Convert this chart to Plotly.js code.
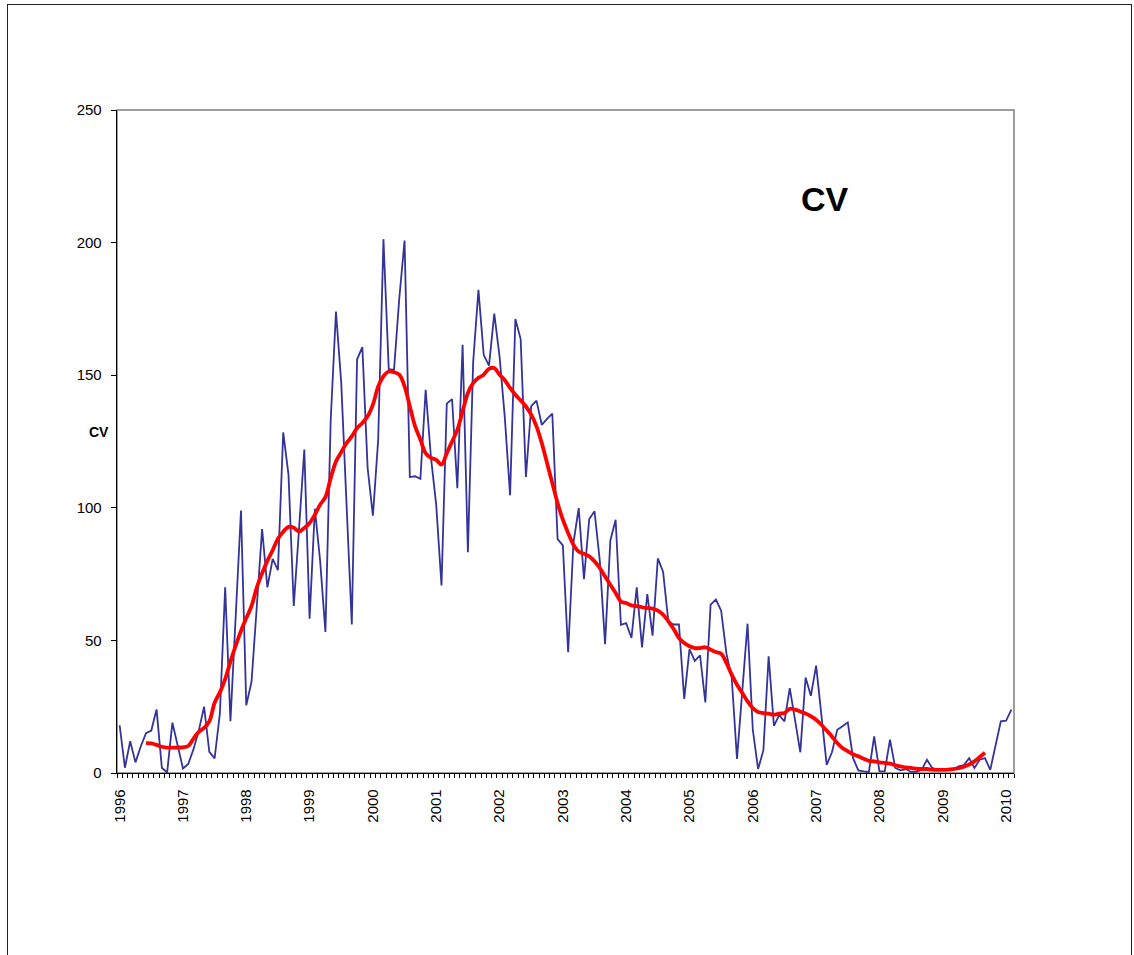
<!DOCTYPE html>
<html>
<head>
<meta charset="utf-8">
<script src="https://cdn.plot.ly/plotly-3.0.1.min.js"></script>
<style>
  html, body { margin: 0; padding: 0; background: #fff; overflow: hidden; }
  #frame { position: absolute; left: 7px; top: 4px; width: 1125px; height: 980px; border: 1px solid #222; box-sizing: border-box; pointer-events: none; }
  #chart { position: absolute; left: 0; top: 0; width: 1134px; height: 955px; }
</style>
</head>
<body>
<div id="chart"></div>
<div id="frame"></div>
<script>
// Monthly CV values, Jan 1996 .. Feb 2010
const cvMonthly = [
  18, 2, 12, 4, 10, 15, 16, 24, 2, 0.2, 19, 10,
  1.7, 3.4, 9, 16, 25, 8, 5.5, 22.5, 70, 19.5, 59, 99,
  25.5, 34.5, 63, 92, 70, 80.7, 76.5, 128.4, 112.5, 63, 92, 122,
  58.2, 99.6, 80, 53.2, 133, 174, 147, 101, 56, 156, 160.6, 115,
  97, 125.7, 201.3, 152.3, 152, 179, 200.8, 111.6, 111.9, 110.9, 144.5, 119,
  101, 70.7, 139.3, 141, 107.4, 161.5, 83.2, 155, 182.2, 157.7, 153.6, 173.2,
  157.1, 134, 104.7, 171.2, 163.6, 111.6, 138.3, 140.4, 131.3, 133.5, 135.5, 88.2,
  85.8, 45.5, 86.7, 99.9, 73.1, 95.8, 98.7, 80, 48.6, 87.7, 95.5, 55.9,
  56.5, 50.9, 70, 47.4, 67.5, 51.8, 80.9, 75.8, 57, 56, 56, 27.9,
  46.7, 42.3, 44.4, 26.6, 63.5, 65.4, 61.2, 45, 36, 5.3, 31, 56.3,
  16.3, 1.5, 8.5, 44, 17.8, 21.8, 19.5, 32, 20, 7.8, 36, 29.1,
  40.5, 21, 3.1, 7.8, 16.3, 17.6, 19.1, 5.6, 1, 0.6, 0.4, 13.8,
  0.6, 0.6, 12.6, 1.9, 1, 1.5, 0.4, 0.4, 1.2, 5, 1.9, 1.2,
  1.2, 1.2, 1.2, 2.5, 3, 5.6, 1.9, 5, 5.6, 1.2, 10.7, 19.5,
  19.7, 23.9
];

// Smoothed trend (red), Jun 1996 .. Sep 2009
const trendStartMonth = 5;
const cvTrend = [
  11.3, 11.2, 10.6, 9.9, 9.6, 9.6, 9.6, 9.7, 10.2, 13, 15.5, 17,
  19.5, 26.5, 30.4, 35.4, 42, 48, 53.6, 58.4, 63, 70, 75.3, 80,
  84, 88.3, 91, 92.8, 92.5, 91.1, 92.4, 94.3, 97.4, 101.2, 104, 111.2,
  117.5, 121, 124.4, 126.9, 130.1, 132, 134.5, 138.9, 145.8, 149.6, 151.4, 151.1,
  150.2, 145.8, 138.2, 130.7, 125.7, 120.6, 118.8, 118.1, 116.3, 120.6, 125, 129.4,
  136.4, 143.3, 147, 149, 150.2, 152.4, 152.7, 150.2, 148.1, 145.2, 142.6, 140.5,
  138.2, 135.1, 130.7, 124.4, 116.9, 109.3, 101.8, 95.5, 90.5, 86.1, 83.5, 82.7,
  81.7, 79.8, 77.3, 74.1, 71, 67.9, 64.7, 64.1, 63.2, 62.9, 62.5, 62.2,
  62, 61.2, 59.7, 57.2, 54.3, 50.9, 49, 47.8, 47.1, 47.1, 47.4, 46.5,
  45.6, 45, 41.5, 37.1, 33.3, 30.2, 27, 24.5, 23, 22.6, 22.4, 22,
  22.4, 22.6, 24.2, 23.9, 23.2, 22.4, 21.4, 20.1, 18.2, 16, 13.8, 11.3,
  9.4, 8.2, 7.1, 6.3, 5.4, 4.6, 4.4, 4, 3.8, 3.5, 2.9, 2.5,
  2.1, 1.9, 1.6, 1.5, 1.5, 1.3, 1.2, 1.2, 1.3, 1.5, 1.8, 2.4,
  3.2, 4.4, 6, 7.6
];

const yearLabels = ['1996','1997','1998','1999','2000','2001','2002','2003','2004','2005','2006','2007','2008','2009','2010'];
const yTicks = [0, 50, 100, 150, 200, 250];

const xMonthly = cvMonthly.map((_, i) => i);
const xTrend = cvTrend.map((_, i) => i + trendStartMonth);
const yearTickVals = yearLabels.map((_, k) => k * 12);

const FONT = 'Arial, "Liberation Sans", sans-serif';

const traces = [
  {
    x: xMonthly, y: cvMonthly, type: 'scatter', mode: 'lines',
    line: { color: '#333399', width: 1.8 },
    hoverinfo: 'skip', showlegend: false
  },
  {
    x: xTrend, y: cvTrend, type: 'scatter', mode: 'lines',
    line: { color: '#ff0000', width: 3.8, shape: 'spline', smoothing: 1 },
    hoverinfo: 'skip', showlegend: false
  }
];

const layout = {
  width: 1134, height: 955,
  margin: { l: 117.3, r: 120, t: 110.3, b: 181.7, pad: 0 },
  paper_bgcolor: '#ffffff', plot_bgcolor: '#ffffff',
  font: { family: FONT, color: '#000', size: 15 },
  showlegend: false,
  xaxis: {
    range: [-0.5, cvMonthly.length - 0.5],
    tickmode: 'array', tickvals: yearTickVals, ticktext: yearLabels,
    tickangle: -90, ticks: '', ticklabelstandoff: 9,
    tickfont: { family: FONT, size: 15, color: '#000' },
    minor: { ticks: 'outside', tick0: -0.5, dtick: 1, ticklen: 4, tickwidth: 1, tickcolor: '#000', showgrid: false },
    showline: true, linecolor: '#000', linewidth: 1.3,
    showgrid: false, zeroline: false, fixedrange: true
  },
  yaxis: {
    range: [0, 250], tickmode: 'array', tickvals: yTicks,
    ticks: 'outside', ticklen: 5, tickwidth: 1, tickcolor: '#000',
    tickfont: { family: FONT, size: 15, color: '#000' },
    ticklabelstandoff: 6,
    showline: true, linecolor: '#000', linewidth: 1.3,
    showgrid: false, zeroline: false, fixedrange: true
  },
  shapes: [
    { type: 'rect', xref: 'paper', yref: 'paper', x0: 0, x1: 1, y0: 0, y1: 1,
      line: { color: '#808080', width: 1.5 }, layer: 'below' }
  ],
  annotations: [
    { text: '<b>CV</b>', xref: 'paper', yref: 'paper', x: 0.789, y: 0.866,
      xanchor: 'center', yanchor: 'middle', showarrow: false,
      font: { family: FONT, size: 34, color: '#000' } },
    { text: '<b>CV</b>', xref: 'paper', yref: 'paper', x: -0.0204, y: 0.5148,
      xanchor: 'center', yanchor: 'middle', showarrow: false,
      font: { family: FONT, size: 14, color: '#000' } }
  ]
};

Plotly.newPlot('chart', traces, layout, { displayModeBar: false, staticPlot: true });
</script>
</body>
</html>
